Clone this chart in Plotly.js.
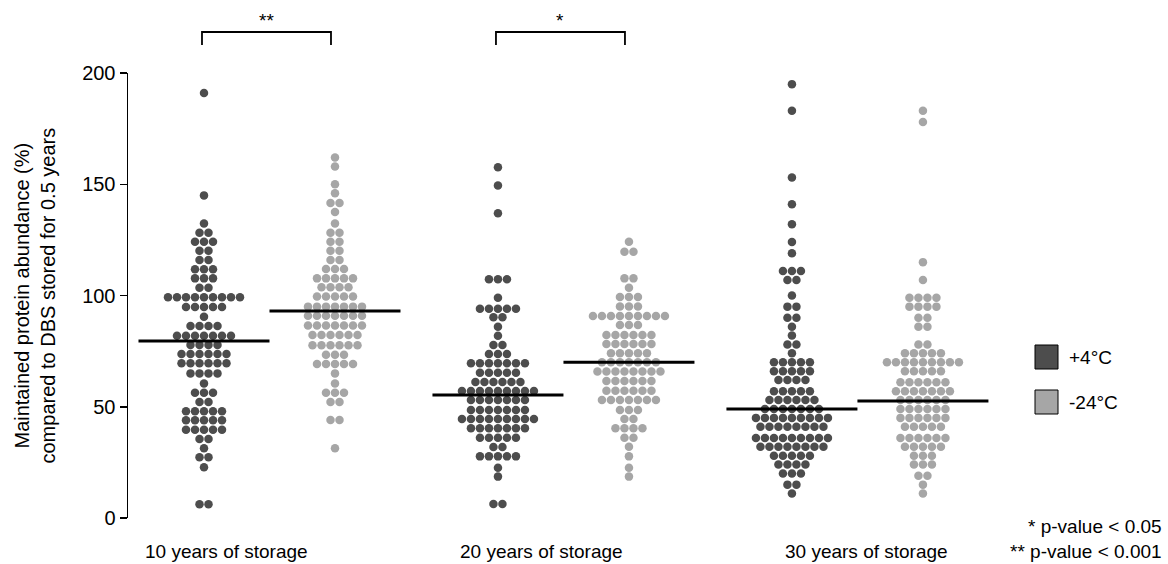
<!DOCTYPE html>
<html>
<head>
<meta charset="utf-8">
<script src="https://cdn.plot.ly/plotly-3.0.1.min.js"></script>
<style>
  html, body { margin: 0; padding: 0; background: #ffffff; }
  #chart { width: 1168px; height: 564px; }
</style>
</head>
<body>
<div id="chart"></div>
<script>
// ---------------- DATA ----------------
const categories = ["10 years of storage", "20 years of storage", "30 years of storage"];
const seriesNames = ["+4°C", "-24°C"];

// +4°C, values per protein (% of 0.5-year abundance)
const warm10 = [191, 145, 132.4, 128.2, 128.2, 124.2, 124.2, 124.2, 120.1, 120.1, 116, 116,
  111.8, 111.8, 111.8, 107.7, 107.7, 107.7, 103.5, 103.5,
  99.2, 99.2, 99.2, 99.2, 99.2, 99.2, 99.2, 99.2, 99.2,
  94.8, 94.8, 94.8, 94.8, 94.8, 90.5, 86.3, 86.3, 86.3, 86.3,
  81.9, 81.9, 81.9, 81.9, 81.9, 81.9, 81.9, 77.8, 77.8, 77.8, 77.8,
  73.7, 73.7, 73.7, 73.7, 73.7, 73.7, 69.5, 69.5, 69.5, 69.5, 69.5, 69.5,
  65, 65, 65, 65, 60.5, 56.3, 56.3, 56.3, 52.1, 52.1,
  48, 48, 48, 48, 48, 43.9, 43.9, 43.9, 43.9, 43.9, 39.7, 39.7, 39.7, 39.7, 39.7,
  35.5, 35.5, 31.3, 27.3, 27.3, 22.8, 6.2, 6.2];
const warm20 = [157.6, 149.4, 137, 107.3, 107.3, 107.3, 99, 94, 94, 94, 94, 94, 90.2, 90.2, 86, 81.9,
  77.8, 77.8, 73.7, 73.7, 73.7, 69.5, 69.5, 69.5, 69.5, 69.5, 69.5, 69.5,
  65.3, 65.3, 65.3, 65.3, 65.3, 61.1, 61.1, 61.1, 61.1, 61.1, 61.1,
  57.1, 57.1, 57.1, 57.1, 57.1, 57.1, 57.1, 57.1, 57.1, 53, 53, 53, 53, 53, 53, 53,
  48.5, 48.5, 48.5, 48.5, 48.5, 48.5, 48.5, 44.5, 44.5, 44.5, 44.5, 44.5, 44.5, 44.5, 44.5, 44.5,
  40.3, 40.3, 40.3, 40.3, 40.3, 40.3, 40.3, 36.1, 36.1, 36.1, 36.1, 36.1, 31.9, 31.9,
  27.7, 27.7, 27.7, 27.7, 27.7, 22.6, 18.6, 6.3, 6.3];
const warm30 = [195, 183, 153, 141, 132, 124, 119, 111, 111, 111, 107, 107, 100, 95, 95, 90, 90, 86, 82,
  78, 78, 74, 70, 70, 70, 70, 70, 66, 66, 66, 66, 66, 62, 62, 62, 62,
  57, 57, 57, 57, 57, 53, 53, 53, 53, 53, 53, 49, 49, 49, 49, 49, 49, 49,
  45, 45, 45, 45, 45, 45, 45, 45, 45, 41, 41, 41, 41, 41, 41, 41, 41,
  36, 36, 36, 36, 36, 36, 36, 36, 36, 32, 32, 32, 32, 32, 32, 32, 32,
  28, 28, 28, 28, 28, 24, 24, 24, 24, 20, 20, 20, 15, 15, 11];

// -24°C
const cold10 = [162, 158, 150, 146, 141.6, 141.6, 137.5, 132.4, 128.2, 128.2, 124.2, 124.2, 120.1, 120.1,
  116, 116, 111.9, 111.9, 111.9, 107.7, 107.7, 107.7, 107.7, 107.7, 103.7, 103.7, 103.7, 103.7,
  99.5, 99.5, 99.5, 99.5, 99.5, 95, 95, 95, 95, 95, 95, 95, 90.9, 90.9, 90.9, 90.9, 90.9, 90.9, 90.9,
  86.5, 86.5, 86.5, 86.5, 86.5, 86.5, 86.5, 82.2, 82.2, 82.2, 82.2, 82.2, 82.2,
  77.6, 77.6, 77.6, 77.6, 77.6, 77.6, 73.4, 73.4, 73.4, 69.2, 69.2, 69.2, 69.2, 69.2,
  65, 60.5, 56.3, 56.3, 56.3, 52.1, 52.1, 44, 44, 31.3];
const cold20 = [124.2, 119.7, 119.7, 107.7, 107.7, 103.5, 99.3, 99.3, 99.3, 95.1, 95.1, 95.1,
  90.8, 90.8, 90.8, 90.8, 90.8, 90.8, 90.8, 90.8, 90.8, 86.7, 86.7, 86.7,
  82.2, 82.2, 82.2, 82.2, 82.2, 82.2, 78.2, 78.2, 78.2, 78.2, 78.2, 78.2, 74, 74, 74, 74, 74,
  70, 70, 70, 70, 70, 70, 70, 65.8, 65.8, 65.8, 65.8, 65.8, 65.8, 65.8, 65.8,
  61.6, 61.6, 61.6, 61.6, 61.6, 61.6, 57.2, 57.2, 57.2, 57.2, 57.2, 57.2,
  53, 53, 53, 53, 53, 53, 53, 48.5, 48.5, 48.5, 44.5, 44.5, 40.3, 40.3, 40.3, 40.3,
  36.1, 36.1, 32, 27.7, 22.6, 18.6];
const cold30 = [183, 178, 115, 107, 99, 99, 99, 99, 95, 95, 95, 95, 90, 90, 86, 86, 78, 78,
  74, 74, 74, 74, 74, 70, 70, 70, 70, 70, 70, 70, 70, 70, 66, 66, 66, 66, 66,
  61, 61, 61, 61, 61, 61, 57, 57, 57, 57, 57, 57, 57, 53, 53, 53, 53, 53, 53,
  49, 49, 49, 49, 49, 49, 45, 45, 45, 45, 45, 45, 41, 41, 41, 41, 41,
  36, 36, 36, 36, 36, 36, 32, 32, 32, 32, 32, 28, 28, 28, 24, 24, 24, 19, 19, 15, 11];

// horizontal summary lines
const warmLine = [79.5, 55.3, 49];
const coldLine = [93, 70, 52.6];

// significance between the two temperatures
const sigLabels = ["**", "*", ""];
const yTicks = [0, 50, 100, 150, 200];
const footnotes = ["* p-value < 0.05", "** p-value < 0.001"];

// ---------------- STYLE / LAYOUT ----------------
const W = 1168, H = 564;
const M = {l: 128, r: 168, t: 73, b: 46};
const plotW = W - M.l - M.r;
const xRange = [-0.4813, 2.485];
const pxPerUnit = plotW / (xRange[1] - xRange[0]);
const sideOff = 65.5 / pxPerUnit;       // group offset from category centre
const dotStep = 9 / pxPerUnit;          // horizontal spacing in a swarm row
const labelCentrePx = [226, 541, 866];  // where the category captions sit
const warmColor = "#4d4d4d";
const coldColor = "#a6a6a6";
const FONT = "Liberation Sans, Arial, Helvetica, sans-serif";
const FS = 19;

function swarm(values, cat, side) {
  const rows = new Map();
  values.forEach(v => {
    const k = v.toFixed(3);
    if (!rows.has(k)) rows.set(k, []);
    rows.get(k).push(v);
  });
  const xs = [], ys = [];
  rows.forEach(list => {
    const n = list.length;
    list.forEach((v, i) => {
      xs.push(cat + side * sideOff + (i - (n - 1) / 2) * dotStep);
      ys.push(v);
    });
  });
  return {xs, ys};
}

const warm = [warm10, warm20, warm30];
const cold = [cold10, cold20, cold30];
const traces = [];
[warm, cold].forEach((groups, s) => {
  const side = s === 0 ? -1 : 1;
  const X = [], Y = [];
  groups.forEach((vals, c) => {
    const r = swarm(vals, c, side);
    X.push(...r.xs); Y.push(...r.ys);
  });
  traces.push({
    type: "scatter", mode: "markers", x: X, y: Y, name: seriesNames[s],
    marker: {color: s === 0 ? warmColor : coldColor, size: 8.5, line: {width: 0}},
    cliponaxis: false, showlegend: false, hoverinfo: "y"
  });
});

// summary lines
const lineX = [], lineY = [];
categories.forEach((c, i) => {
  lineX.push(i - 2 * sideOff, i, null, i, i + 2 * sideOff, null);
  lineY.push(warmLine[i], warmLine[i], null, coldLine[i], coldLine[i], null);
});
traces.push({
  type: "scatter", mode: "lines", x: lineX, y: lineY,
  line: {color: "#000000", width: 3}, showlegend: false, hoverinfo: "skip", cliponaxis: false
});

const shapes = [];
const annotations = [];
const pyToPaper = py => (H - M.b - py) / (H - M.t - M.b);
const pxToPaper = px => (px - M.l) / plotW;

categories.forEach((c, i) => {
  annotations.push({
    text: c, x: pxToPaper(labelCentrePx[i]), xref: "paper", y: pyToPaper(551), yref: "paper",
    xanchor: "center", yanchor: "middle", showarrow: false,
    font: {family: FONT, size: FS, color: "#000"}
  });
  if (sigLabels[i]) {
    const x0 = i - sideOff - 2 / pxPerUnit, x1 = i + sideOff - 4 / pxPerUnit;
    const yTop = pyToPaper(32), yLeg = pyToPaper(45);
    shapes.push({type: "path", xref: "x", yref: "paper",
      path: "M" + x0 + "," + yLeg + " L" + x0 + "," + yTop + " L" + x1 + "," + yTop + " L" + x1 + "," + yLeg,
      line: {color: "#000", width: 1.8}});
    annotations.push({
      text: sigLabels[i], x: (x0 + x1) / 2, xref: "x", y: pyToPaper(20), yref: "paper",
      xanchor: "center", yanchor: "middle", showarrow: false,
      font: {family: FONT, size: FS, color: "#000"}
    });
  }
});

// legend (custom boxes)
const legendY = [357, 402];
[warmColor, coldColor].forEach((col, k) => {
  shapes.push({type: "rect", xref: "paper", yref: "paper",
    x0: pxToPaper(1035), x1: pxToPaper(1058),
    y0: pyToPaper(legendY[k] + 12), y1: pyToPaper(legendY[k] - 12),
    fillcolor: col, line: {color: "#000", width: 1}});
  annotations.push({
    text: seriesNames[k], x: pxToPaper(1067), xref: "paper", y: pyToPaper(legendY[k]), yref: "paper",
    xanchor: "left", yanchor: "middle", showarrow: false,
    font: {family: FONT, size: FS, color: "#000"}
  });
});

// footnotes
[526, 551].forEach((py, k) => {
  annotations.push({
    text: footnotes[k], x: pxToPaper(1164), xref: "paper", y: pyToPaper(py), yref: "paper",
    xanchor: "right", yanchor: "middle", showarrow: false,
    font: {family: FONT, size: FS, color: "#000"}
  });
});

// y-axis title (two lines)
annotations.push({
  text: "Maintained protein abundance (%)<br>compared to DBS stored for 0.5 years",
  x: pxToPaper(34), xref: "paper", y: 0.5, yref: "paper", textangle: -90,
  xanchor: "center", yanchor: "middle", showarrow: false,
  font: {family: FONT, size: 20, color: "#000"}
});

const layout = {
  width: W, height: H,
  margin: M,
  paper_bgcolor: "#fff", plot_bgcolor: "#fff",
  showlegend: false,
  xaxis: {range: xRange, showline: false, showgrid: false, zeroline: false,
          showticklabels: false, ticks: "", fixedrange: true},
  yaxis: {range: [0, 200], tickvals: yTicks, ticktext: yTicks.map(String),
          showline: true, linecolor: "#000", linewidth: 1.5, ticks: "outside", ticklen: 7,
          tickwidth: 1.5, tickcolor: "#000", showgrid: false, zeroline: false,
          tickfont: {family: FONT, size: 20, color: "#000"}, fixedrange: true},
  shapes: shapes,
  annotations: annotations
};

Plotly.newPlot("chart", traces, layout, {staticPlot: true, displayModeBar: false});
</script>
</body>
</html>
